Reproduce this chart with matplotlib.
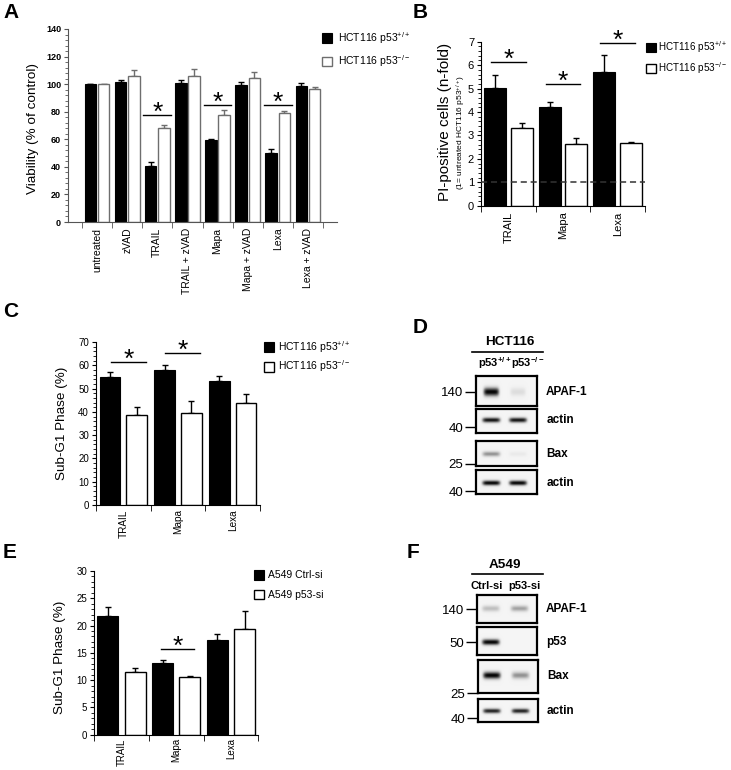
import matplotlib
matplotlib.use('Agg')
import matplotlib.pyplot as plt
import numpy as np

plt.rcParams['font.family'] = ['Liberation Sans', 'DejaVu Sans']
plt.rcParams['mathtext.fontset'] = 'custom'
plt.rcParams['mathtext.rm'] = 'Liberation Sans'
plt.rcParams['mathtext.bf'] = 'Liberation Sans:bold'
plt.rcParams['mathtext.default'] = 'regular'

W, H = 731, 770

# ---- panel A: viability ----
a_cats = ['untreated', 'zVAD', 'TRAIL', 'TRAIL + zVAD', 'Mapa', 'Mapa + zVAD', 'Lexa', 'Lexa + zVAD']
a_wt = [100, 101.7, 40.8, 100.8, 59.2, 99.6, 50.0, 98.9]
a_wt_err = [0, 1.3, 2.5, 1.9, 1.0, 2.2, 3.2, 1.9]
a_ko = [100, 105.6, 67.9, 105.6, 77.6, 104.6, 78.8, 96.2]
a_ko_err = [0, 4.4, 2.2, 5.1, 3.4, 4.2, 1.5, 1.9]
a_sig = [(2, 77.6), (4, 84.8), (6, 84.8)]

# ---- panel B: PI-positive cells ----
drug_cats = ['TRAIL', 'Mapa', 'Lexa']
b_wt = [5.01, 4.20, 5.69]
b_wt_err = [0.57, 0.24, 0.74]
b_ko = [3.30, 2.63, 2.66]
b_ko_err = [0.21, 0.25, 0.07]
b_sig = [(0, 6.12), (1, 5.18), (2, 6.96)]

# ---- panel C: sub-G1 HCT116 ----
c_wt = [55.1, 57.9, 53.3]
c_wt_err = [2.1, 2.3, 1.9]
c_ko = [38.6, 39.6, 43.9]
c_ko_err = [3.3, 4.9, 3.6]
c_sig = [(0, 61.5), (1, 65.1)]

# ---- panel E: sub-G1 A549 ----
e_ctrl = [21.8, 13.1, 17.4]
e_ctrl_err = [1.6, 0.5, 1.0]
e_si = [11.55, 10.63, 19.4]
e_si_err = [0.6, 0.1, 3.3]
e_sig = [(1, 15.7)]

lbl_wt = 'HCT116 p53$^{+/+}$'
lbl_ko = 'HCT116 p53$^{-/-}$'

# ---- western blots: band intensity per lane ----
d_lanes = ['p53$^{+/+}$', 'p53$^{-/-}$']
d_blots = ['APAF-1', 'actin', 'Bax', 'actin']
d_bands = [[0.95, 0.15], [0.9, 0.9], [0.45, 0.08], [0.95, 0.95]]
d_markers = ['140', '40', '25', '40']
f_lanes = ['Ctrl-si', 'p53-si']
f_blots = ['APAF-1', 'p53', 'Bax', 'actin']
f_bands = [[0.3, 0.4], [0.95, 0.0], [0.95, 0.45], [0.85, 0.85]]
f_markers = ['140', '50', '25', '40']

fig = plt.figure(figsize=(W / 100, H / 100), dpi=100)


def px_axes(x0, y0, x1, y1):
    return fig.add_axes([x0 / W, 1 - y1 / H, (x1 - x0) / W, (y1 - y0) / H])


def bar_panel(ax, wt, wt_err, ko, ko_err, lw_lbl, ko_lbl, off, width, ko_edge='k'):
    x = np.arange(len(wt))
    ax.bar(x - off, wt, width, color='k', edgecolor='k', lw=0.8, label=lw_lbl, zorder=2)
    ax.bar(x + off, ko, width, color='white', edgecolor=ko_edge, lw=1, label=ko_lbl, zorder=2)
    ax.errorbar(x - off, wt, yerr=[np.zeros(len(wt)), wt_err], fmt='none', ecolor='k',
                capsize=2.5, elinewidth=1, capthick=1, zorder=1)
    ax.errorbar(x + off, ko, yerr=[np.zeros(len(ko)), ko_err], fmt='none', ecolor=ko_edge,
                capsize=2.5, elinewidth=1, capthick=1, zorder=1)


def style(ax, cats, ymax, major, minor, xlim, tick_fs, xlab_fs, spine='k', bold=False, pad=4):
    n = len(cats)
    for s in ['top', 'right']:
        ax.spines[s].set_visible(False)
    for s in ['left', 'bottom']:
        ax.spines[s].set_color(spine)
    ax.set_xlim(*xlim)
    ax.set_ylim(0, ymax)
    ax.set_yticks(np.arange(0, ymax + 1e-6, major))
    ax.set_yticks(np.arange(0, ymax + 1e-6, minor), minor=True)
    ax.set_xticks(np.arange(n))
    ax.set_xticklabels(cats, rotation=90, fontsize=xlab_fs)
    ax.set_xticks(np.arange(-0.5, n), minor=True)
    ax.tick_params(axis='x', which='major', length=0, pad=pad)
    ax.tick_params(axis='x', which='minor', length=4, color=spine)
    ax.tick_params(axis='y', which='major', length=3, labelsize=tick_fs, pad=2, color=spine)
    ax.tick_params(axis='y', which='minor', length=2, color=spine)
    if bold:
        for t in ax.get_yticklabels():
            t.set_fontweight('bold')


def sig(ax, i, y, lo, hi, fs=19):
    ax.plot([i + lo, i + hi], [y, y], color='k', lw=1, clip_on=False)
    ax.annotate('*', xy=(i + (lo + hi) / 2, y), xytext=(0, -3.5), textcoords='offset points',
                ha='center', va='baseline', fontsize=fs, annotation_clip=False)


def legend(ax, x, y, fs, spacing, pad):
    ax.legend(loc='upper left', bbox_to_anchor=(x / W, 1 - y / H), bbox_transform=fig.transFigure,
              frameon=False, fontsize=fs, handlelength=1.0, handleheight=1.05,
              handletextpad=pad, labelspacing=spacing, borderpad=0, borderaxespad=0)


# ---------------- A ----------------
axA = px_axes(68, 29, 337, 222)
bar_panel(axA, a_wt, a_wt_err, a_ko, a_ko_err, lbl_wt, lbl_ko, 0.22, 0.38, ko_edge='#6e6e6e')
style(axA, a_cats, 140, 20, 4, (-0.965, 7.965), 6.5, 7.5, spine='#555555', bold=True)
for i, y in a_sig:
    sig(axA, i, y, -0.46, 0.46)
axA.text(-0.13, 0.487, 'Viability (% of control)', transform=axA.transAxes, rotation=90,
         ha='center', va='center', fontsize=9.7)
legend(axA, 322, 30, 7.5, 0.72, 0.5)

# ---------------- B ----------------
axB = px_axes(481, 41.7, 645, 205.7)
bar_panel(axB, b_wt, b_wt_err, b_ko, b_ko_err, lbl_wt, lbl_ko, 0.243, 0.4)
axB.axhline(1, ls=(0, (4, 2.5)), color='#333333', lw=1.1, zorder=3)
style(axB, drug_cats, 7, 1, 0.2, (-0.5, 2.5), 8, 8)
for i, y in b_sig:
    sig(axB, i, y, -0.32, 0.32)
axB.text(-0.22, 0.513, 'PI-positive cells (n-fold)', transform=axB.transAxes, rotation=90,
         ha='center', va='center', fontsize=11)
axB.text(-0.122, 0.446, '(1= untreated HCT116 p53$^{+/+}$)', transform=axB.transAxes, rotation=90,
         ha='center', va='center', fontsize=6)
legend(axB, 646, 39, 7.1, 0.55, 0.2)

# ---------------- C ----------------
axC = px_axes(96, 342, 260, 505)
bar_panel(axC, c_wt, c_wt_err, c_ko, c_ko_err, lbl_wt, lbl_ko, 0.245, 0.38)
style(axC, drug_cats, 70, 10, 2, (-0.5, 2.5), 7, 7.2, pad=3)
for i, y in c_sig:
    sig(axC, i, y, -0.23, 0.41)
axC.text(-0.207, 0.503, 'Sub-G1 Phase (%)', transform=axC.transAxes, rotation=90,
         ha='center', va='center', fontsize=9.7)
legend(axC, 264, 339, 7.5, 0.35, 0.3)

# ---------------- E ----------------
axE = px_axes(94.3, 571, 258.3, 734.7)
bar_panel(axE, e_ctrl, e_ctrl_err, e_si, e_si_err, 'A549 Ctrl-si', 'A549 p53-si', 0.25, 0.385)
style(axE, drug_cats, 30, 5, 1, (-0.5, 2.5), 7, 7.0, pad=2.5)
for i, y in e_sig:
    sig(axE, i, y, -0.28, 0.33)
axE.text(-0.209, 0.47, 'Sub-G1 Phase (%)', transform=axE.transAxes, rotation=90,
         ha='center', va='center', fontsize=9.7)
legend(axE, 254, 570, 7.5, 0.9, 0.3)


# ---------------- blots ----------------
def blot(box, bands, lanes_x, yc, name, marker, mpos, half_w=0.15, sig_y=0.11):
    ax = px_axes(*box)
    xx = np.linspace(0, 1, 160)
    yy = np.linspace(0, 1, 60)
    X, Y = np.meshgrid(xx, yy)
    img = np.full_like(X, 0.09)
    for lx, it in zip(lanes_x, bands):
        img += it * np.exp(-((X - lx) / half_w) ** 6 - ((Y - yc) / sig_y) ** 2)
    ax.imshow(img, cmap='Greys', vmin=0, vmax=1.05, extent=[0, 1, 0, 1], origin='lower',
              aspect='auto', interpolation='bilinear')
    for s in ax.spines.values():
        s.set_linewidth(1.6)
    ax.set_xticks([])
    ax.set_yticks([mpos])
    ax.set_yticklabels([marker], fontsize=9.5)
    ax.tick_params(axis='y', length=8, width=1, pad=1)
    ax.set_ylim(0, 1)
    ax.text(1.15, yc, name, transform=ax.transAxes, ha='left', va='center',
            fontsize=8.5, fontweight='bold')
    return ax


# D
d_boxes = [(476, 376, 537, 406), (476, 409, 537, 433), (476, 441, 537, 466), (476, 470, 537, 494)]
d_yc = [0.47, 0.54, 0.48, 0.46]
d_mpos = [0.47, 0.25, 0.08, 0.125]
d_lx = [0.25, 0.69]
for k in range(4):
    if k == 0:
        blot(d_boxes[k], d_bands[k], d_lx, d_yc[k], d_blots[k], d_markers[k], d_mpos[k],
             half_w=0.13, sig_y=0.15)
    else:
        blot(d_boxes[k], d_bands[k], d_lx, d_yc[k], d_blots[k], d_markers[k], d_mpos[k])
fig.text(510 / W, 1 - 342 / H, 'HCT116', ha='center', va='center', fontsize=9.7, fontweight='bold')
fig.add_artist(plt.Line2D([472 / W, 543 / W], [1 - 352 / H, 1 - 352 / H], color='k', lw=1.2))
for x, t in zip([495, 528], d_lanes):
    fig.text(x / W, 1 - 363 / H, t, ha='center', va='center', fontsize=8, fontweight='bold')

# F
f_boxes = [(477, 595, 537, 623), (477, 627, 537, 655), (478, 660, 538, 693), (478, 699, 538, 722)]
f_yc = [0.5, 0.46, 0.52, 0.48]
f_mpos = [0.5, 0.46, 0.0, 0.17]
f_lx = [0.23, 0.71]
for k in range(4):
    blot(f_boxes[k], f_bands[k], f_lx, f_yc[k], f_blots[k], f_markers[k], f_mpos[k])
fig.text(505 / W, 1 - 565 / H, 'A549', ha='center', va='center', fontsize=9.7, fontweight='bold')
fig.add_artist(plt.Line2D([472 / W, 543 / W], [1 - 574 / H, 1 - 574 / H], color='k', lw=1.2))
for x, t in zip([487, 524], f_lanes):
    fig.text(x / W, 1 - 586 / H, t, ha='center', va='center', fontsize=8, fontweight='bold')

# panel letters
for t, x, y in [('A', 3, 3), ('B', 413, 3), ('C', 3, 302), ('D', 413, 318), ('E', 3, 543), ('F', 407, 543)]:
    fig.text(x / W, 1 - y / H, t, ha='left', va='top', fontsize=15, fontweight='bold')

fig.savefig('out.png', dpi=100)
